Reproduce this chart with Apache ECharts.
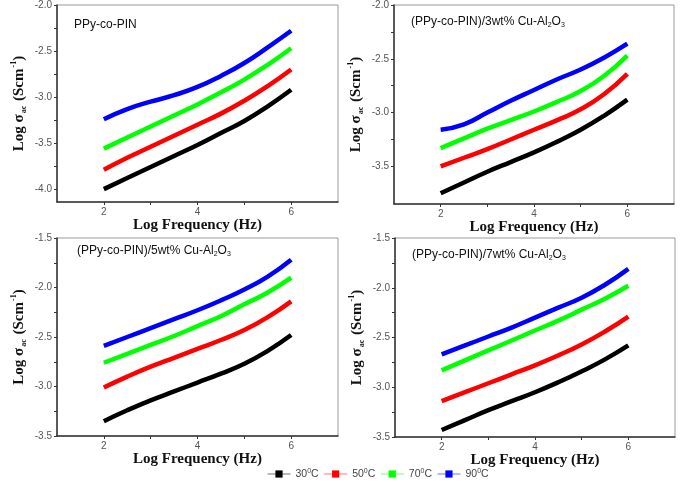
<!DOCTYPE html>
<html>
<head>
<meta charset="utf-8">
<script src="https://cdn.jsdelivr.net/npm/echarts@6/dist/echarts.min.js"></script>
<style>html,body{margin:0;padding:0;background:#fff}#c{width:685px;height:488px}</style>
</head>
<body>
<div id="c"></div>
<script>
// Log frequency (Hz)
var freq = [2, 2.5, 3, 3.5, 4, 4.5, 5, 5.5, 6];
var temps = ['30', '50', '70', '90'];
var xTicks = [2, 4, 6];
// Panel 1: PPy-co-PIN
var p1_30 = [-4.00, -3.88, -3.76, -3.64, -3.52, -3.39, -3.26, -3.10, -2.92];
var p1_50 = [-3.79, -3.66, -3.54, -3.42, -3.30, -3.18, -3.04, -2.88, -2.70];
var p1_70 = [-3.56, -3.44, -3.32, -3.20, -3.08, -2.95, -2.81, -2.65, -2.47];
var p1_90 = [-3.24, -3.13, -3.05, -2.98, -2.89, -2.77, -2.63, -2.46, -2.28];
// Panel 2: 3wt%
var p2_30 = [-3.75, -3.65, -3.55, -3.46, -3.37, -3.27, -3.16, -3.03, -2.88];
var p2_50 = [-3.50, -3.42, -3.34, -3.25, -3.16, -3.07, -2.97, -2.83, -2.64];
var p2_70 = [-3.33, -3.24, -3.15, -3.07, -2.99, -2.90, -2.80, -2.66, -2.47];
var p2_90 = [-3.16, -3.11, -3.00, -2.89, -2.79, -2.69, -2.60, -2.49, -2.36];
// Panel 3: 5wt%
var p3_30 = [-3.35, -3.24, -3.14, -3.05, -2.96, -2.87, -2.77, -2.64, -2.48];
var p3_50 = [-3.01, -2.90, -2.80, -2.71, -2.62, -2.53, -2.43, -2.30, -2.14];
var p3_70 = [-2.76, -2.67, -2.58, -2.49, -2.39, -2.29, -2.17, -2.05, -1.90];
var p3_90 = [-2.59, -2.50, -2.41, -2.32, -2.23, -2.13, -2.02, -1.89, -1.72];
// Panel 4: 7wt%
var p4_30 = [-3.43, -3.33, -3.23, -3.14, -3.05, -2.95, -2.84, -2.72, -2.58];
var p4_50 = [-3.14, -3.05, -2.96, -2.87, -2.78, -2.68, -2.57, -2.44, -2.29];
var p4_70 = [-2.83, -2.73, -2.63, -2.53, -2.43, -2.33, -2.22, -2.11, -1.98];
var p4_90 = [-2.67, -2.58, -2.49, -2.40, -2.30, -2.20, -2.10, -1.97, -1.81];
// Y tick labels per panel
var yTicks1 = [-4.0, -3.5, -3.0, -2.5, -2.0];
var yTicks2 = [-3.5, -3.0, -2.5, -2.0];
var yTicks3 = [-3.5, -3.0, -2.5, -2.0, -1.5];
var yTicks4 = [-3.5, -3.0, -2.5, -2.0, -1.5];
var yRange1 = [-4.14, -2.0];
var yRange2 = [-3.85, -2.0];
var yRange3 = [-3.5, -1.5];
var yRange4 = [-3.5, -1.5];
var panelTitles = ['PPy-co-PIN', '(PPy-co-PIN)/3wt% Cu-Al{s|2}O{s|3}', '(PPy-co-PIN)/5wt% Cu-Al{s|2}O{s|3}', '(PPy-co-PIN)/7wt% Cu-Al{s|2}O{s|3}'];
var xName = 'Log Frequency (Hz)';

var colors = ['#000000', '#ff0000', '#00ff00', '#0000ff'];
var panels = [
  {data: [p1_30, p1_50, p1_70, p1_90], yt: yTicks1, yr: yRange1},
  {data: [p2_30, p2_50, p2_70, p2_90], yt: yTicks2, yr: yRange2},
  {data: [p3_30, p3_50, p3_70, p3_90], yt: yTicks3, yr: yRange3},
  {data: [p4_30, p4_50, p4_70, p4_90], yt: yTicks4, yr: yRange4}
];
var grids = [
  {left: 57, top: 4, width: 281, height: 198},
  {left: 394, top: 5, width: 280, height: 199},
  {left: 57, top: 238, width: 281, height: 198},
  {left: 395, top: 238, width: 280, height: 199}
];
var titlePos = [[74, 18], [411, 15], [77, 244], [412, 248]];

function minorList(ticks, step) {
  var out = [];
  for (var i = 0; i < ticks.length; i++) { out.push(ticks[i]); }
  for (var j = 0; j < ticks.length - 1; j++) { out.push(ticks[j] + step / 2); }
  return out;
}

var labelFont = 'Liberation Sans, Arial, sans-serif';
var serif = 'Liberation Serif, Times New Roman, serif';
var option = {
  backgroundColor: '#ffffff',
  animation: false,
  grid: grids.map(function (g) {
    return Object.assign({show: true, borderColor: '#9a9a9a', borderWidth: 1, containLabel: false}, g);
  }),
  title: panelTitles.map(function (t, i) {
    return {
      text: t, left: titlePos[i][0], top: titlePos[i][1], padding: 0,
      textStyle: {
        fontFamily: labelFont, fontSize: 12, fontWeight: 'normal', color: '#111', lineHeight: 14,
        rich: {s: {fontFamily: labelFont, fontSize: 7, color: '#111', verticalAlign: 'bottom', lineHeight: 7}}
      }
    };
  }),
  xAxis: panels.map(function (p, i) {
    return {
      type: 'value', gridIndex: i, min: 1, max: 7,
      splitLine: {show: false},
      axisLine: {show: true, lineStyle: {color: '#333', width: 1.5}},
      axisTick: {show: true, customValues: [2, 3, 4, 5, 6], length: 3, lineStyle: {color: '#333'}},
      axisLabel: {customValues: xTicks, color: '#555', fontSize: 10, fontFamily: labelFont, margin: 5},
      name: xName, nameLocation: 'middle', nameGap: 9,
      nameTextStyle: {fontFamily: serif, fontWeight: 'bold', fontSize: 15, color: '#111'}
    };
  }),
  yAxis: panels.map(function (p, i) {
    return {
      type: 'value', gridIndex: i, min: p.yr[0], max: p.yr[1],
      splitLine: {show: false},
      axisLine: {show: true, lineStyle: {color: '#333', width: 1.5}},
      axisTick: {show: true, customValues: minorList(p.yt, 0.5), length: 3, lineStyle: {color: '#333'}},
      axisLabel: {customValues: p.yt, color: '#555', fontSize: 10, fontFamily: labelFont, margin: 5,
        formatter: function (v) { return v.toFixed(1); }},
      name: '{t|Log σ}{s|ac}{t| (Scm}{p|-1}{t|)}',
      nameLocation: 'middle', nameGap: 29, nameRotate: 90,
      nameTextStyle: {
        fontFamily: serif, fontWeight: 'bold', fontSize: 15, color: '#111',
        rich: {
          t: {fontFamily: serif, fontWeight: 'bold', fontSize: 15, color: '#111', lineHeight: 18},
          s: {fontFamily: serif, fontWeight: 'bold', fontSize: 8, color: '#111', lineHeight: 9, verticalAlign: 'bottom', padding: [0, 1, 0, 1]},
          p: {fontFamily: serif, fontWeight: 'bold', fontSize: 8, color: '#111', lineHeight: 9, verticalAlign: 'top', padding: [0, 0, 0, 1]}
        }
      }
    };
  }),
  legend: {
    left: 262, top: 463, orient: 'horizontal',
    itemWidth: 23, itemHeight: 9, itemGap: 5,
    data: temps.map(function (t) { return t; }),
    formatter: function (n) { return n + '{sup|0}C'; },
    lineStyle: {width: 1, opacity: 0.55},
    textStyle: {fontFamily: labelFont, fontSize: 10.5, color: '#444', lineHeight: 12,
      rich: {sup: {fontFamily: labelFont, fontSize: 7, color: '#444', verticalAlign: 'top', lineHeight: 7}}}
  },
  series: []
};
panels.forEach(function (p, i) {
  p.data.forEach(function (vals, k) {
    option.series.push({
      type: 'line', name: temps[k], xAxisIndex: i, yAxisIndex: i,
      data: freq.map(function (f, j) { return [f, vals[j]]; }),
      smooth: 0.5, symbol: 'rect', symbolSize: 8, showSymbol: false,
      color: colors[k],
      lineStyle: {color: colors[k], width: 4.5},
      itemStyle: {color: colors[k]}
    });
  });
});
var chart = echarts.init(document.getElementById('c'), null, {renderer: 'canvas'});
chart.setOption(option);
</script>
</body>
</html>
